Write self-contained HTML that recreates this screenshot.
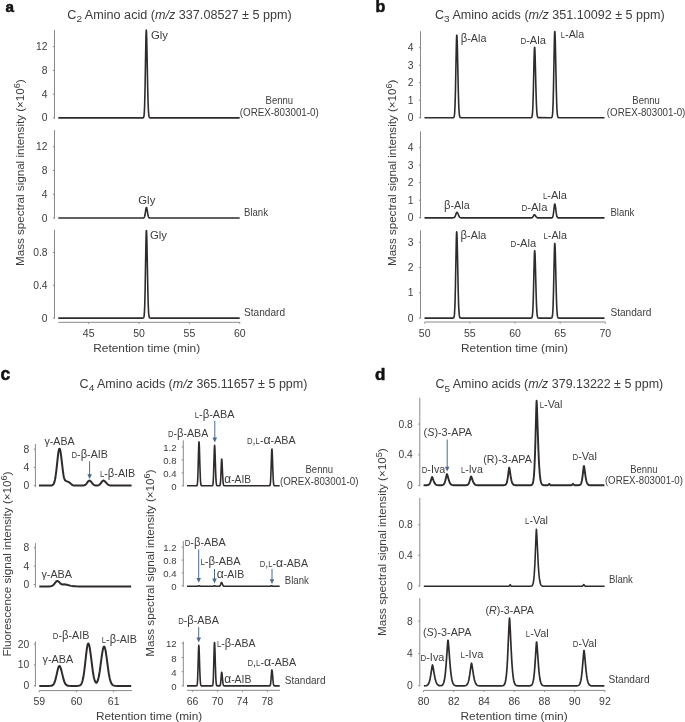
<!DOCTYPE html>
<html><head><meta charset="utf-8"><style>
html,body{margin:0;padding:0;background:#fff;}
body{width:685px;height:722px;overflow:hidden;}
svg{display:block;font-family:"Liberation Sans",sans-serif;fill:#3c3c3c;will-change:transform;}
</style></head><body>
<svg width="685" height="722" viewBox="0 0 685 722">
<text x="5.50" y="11.80" font-size="15.20" font-weight="bold" fill="#111" stroke="#111" stroke-width="0.55">a</text>
<text x="67.30" y="18.60" font-size="12.30" textLength="224.40" lengthAdjust="spacingAndGlyphs">C<tspan font-size="0.8em" dy="3.6">2</tspan><tspan dy="-3.60"> Amino acid (</tspan><tspan font-style="italic">m/z</tspan> 337.08527 ± 5 ppm)</text>
<line x1="54.50" y1="30.10" x2="54.50" y2="118.60" stroke="#8a8a8a" stroke-width="1.00"/>
<line x1="52.90" y1="117.90" x2="54.50" y2="117.90" stroke="#8a8a8a" stroke-width="1.00"/>
<text x="47.50" y="121.40" font-size="10.30" text-anchor="end">0</text>
<line x1="52.90" y1="94.14" x2="54.50" y2="94.14" stroke="#8a8a8a" stroke-width="1.00"/>
<text x="47.50" y="97.64" font-size="10.30" text-anchor="end">4</text>
<line x1="52.90" y1="70.38" x2="54.50" y2="70.38" stroke="#8a8a8a" stroke-width="1.00"/>
<text x="47.50" y="73.88" font-size="10.30" text-anchor="end">8</text>
<line x1="52.90" y1="46.62" x2="54.50" y2="46.62" stroke="#8a8a8a" stroke-width="1.00"/>
<text x="47.50" y="50.12" font-size="10.30" text-anchor="end">12</text>
<line x1="54.50" y1="130.10" x2="54.50" y2="218.60" stroke="#8a8a8a" stroke-width="1.00"/>
<line x1="52.90" y1="218.00" x2="54.50" y2="218.00" stroke="#8a8a8a" stroke-width="1.00"/>
<text x="47.50" y="221.50" font-size="10.30" text-anchor="end">0</text>
<line x1="52.90" y1="194.24" x2="54.50" y2="194.24" stroke="#8a8a8a" stroke-width="1.00"/>
<text x="47.50" y="197.74" font-size="10.30" text-anchor="end">4</text>
<line x1="52.90" y1="170.48" x2="54.50" y2="170.48" stroke="#8a8a8a" stroke-width="1.00"/>
<text x="47.50" y="173.98" font-size="10.30" text-anchor="end">8</text>
<line x1="52.90" y1="146.72" x2="54.50" y2="146.72" stroke="#8a8a8a" stroke-width="1.00"/>
<text x="47.50" y="150.22" font-size="10.30" text-anchor="end">12</text>
<line x1="54.50" y1="229.80" x2="54.50" y2="318.60" stroke="#8a8a8a" stroke-width="1.00"/>
<line x1="52.90" y1="318.10" x2="54.50" y2="318.10" stroke="#8a8a8a" stroke-width="1.00"/>
<text x="47.50" y="321.60" font-size="10.30" text-anchor="end">0</text>
<line x1="52.90" y1="285.30" x2="54.50" y2="285.30" stroke="#8a8a8a" stroke-width="1.00"/>
<text x="47.50" y="288.80" font-size="10.30" text-anchor="end">0.4</text>
<line x1="52.90" y1="252.50" x2="54.50" y2="252.50" stroke="#8a8a8a" stroke-width="1.00"/>
<text x="47.50" y="256.00" font-size="10.30" text-anchor="end">0.8</text>
<line x1="58.30" y1="322.30" x2="239.90" y2="322.30" stroke="#8a8a8a" stroke-width="1.00"/>
<line x1="88.70" y1="322.30" x2="88.70" y2="323.90" stroke="#8a8a8a" stroke-width="1.00"/>
<text x="88.70" y="336.90" font-size="10.50" text-anchor="middle">45</text>
<line x1="139.05" y1="322.30" x2="139.05" y2="323.90" stroke="#8a8a8a" stroke-width="1.00"/>
<text x="139.05" y="336.90" font-size="10.50" text-anchor="middle">50</text>
<line x1="189.40" y1="322.30" x2="189.40" y2="323.90" stroke="#8a8a8a" stroke-width="1.00"/>
<text x="189.40" y="336.90" font-size="10.50" text-anchor="middle">55</text>
<line x1="239.75" y1="322.30" x2="239.75" y2="323.90" stroke="#8a8a8a" stroke-width="1.00"/>
<text x="239.75" y="336.90" font-size="10.50" text-anchor="middle">60</text>
<text x="146.70" y="352.20" font-size="11.20" text-anchor="middle" textLength="107.00" lengthAdjust="spacingAndGlyphs">Retention time (min)</text>
<path d="M58.30 117.90 L142.10 117.90 L142.90 117.87 L143.30 117.73 L143.50 117.51 L143.70 117.08 L143.90 116.27 L144.10 114.81 L144.30 112.38 L144.50 108.56 L144.70 102.95 L145.10 85.45 L145.90 39.21 L146.10 32.40 L146.30 30.00 L146.50 31.93 L146.70 37.46 L147.70 88.22 L148.10 103.30 L148.30 108.32 L148.70 114.29 L148.90 115.82 L149.10 116.76 L149.30 117.30 L149.50 117.60 L149.90 117.83 L150.90 117.90 L239.70 117.90" fill="none" stroke="#2f2b2c" stroke-width="1.60" stroke-linejoin="round"/>
<path d="M58.30 218.00 L143.30 217.97 L143.70 217.88 L144.10 217.60 L144.50 216.86 L144.70 216.22 L145.10 214.27 L145.90 208.92 L146.10 207.97 L146.30 207.47 L146.50 207.45 L146.70 207.87 L146.90 208.65 L147.90 214.56 L148.30 216.26 L148.50 216.83 L148.90 217.53 L149.30 217.84 L149.70 217.95 L151.30 218.00 L239.70 218.00" fill="none" stroke="#2f2b2c" stroke-width="1.60" stroke-linejoin="round"/>
<path d="M58.30 318.10 L142.30 318.10 L143.10 318.05 L143.50 317.84 L143.70 317.53 L143.90 316.94 L144.10 315.84 L144.30 313.94 L144.50 310.86 L144.70 306.19 L145.10 290.78 L145.90 244.08 L146.10 235.41 L146.30 230.71 L146.50 230.59 L146.70 234.38 L146.90 241.48 L147.70 283.60 L148.10 300.35 L148.30 306.19 L148.50 310.45 L148.70 313.40 L148.90 315.34 L149.10 316.55 L149.30 317.27 L149.50 317.67 L149.70 317.89 L150.10 318.06 L151.10 318.10 L239.70 318.10" fill="none" stroke="#2f2b2c" stroke-width="1.60" stroke-linejoin="round"/>
<text x="151.00" y="38.80" font-size="11.80" textLength="17.00" lengthAdjust="spacingAndGlyphs">Gly</text>
<text x="138.30" y="204.20" font-size="11.80" textLength="17.00" lengthAdjust="spacingAndGlyphs">Gly</text>
<text x="150.00" y="238.60" font-size="11.80" textLength="17.00" lengthAdjust="spacingAndGlyphs">Gly</text>
<text x="279.30" y="104.00" font-size="10.80" text-anchor="middle" textLength="27.50" lengthAdjust="spacingAndGlyphs">Bennu</text>
<text x="279.30" y="115.90" font-size="10.80" text-anchor="middle" textLength="79.00" lengthAdjust="spacingAndGlyphs">(OREX-803001-0)</text>
<text x="244.00" y="216.00" font-size="10.80" textLength="24.00" lengthAdjust="spacingAndGlyphs">Blank</text>
<text x="244.00" y="316.20" font-size="10.80" textLength="41.00" lengthAdjust="spacingAndGlyphs">Standard</text>
<text x="24.30" y="172.65" font-size="11.60" text-anchor="middle" textLength="186.70" lengthAdjust="spacingAndGlyphs" transform="rotate(-90 24.30 172.65)">Mass spectral signal intensity (×10<tspan font-size="0.78em" dy="-4.4">6</tspan><tspan dy="4.40">)</tspan></text>
<text x="375.60" y="12.00" font-size="16.00" font-weight="bold" fill="#111" stroke="#111" stroke-width="0.55">b</text>
<text x="435.00" y="18.60" font-size="12.30" textLength="229.70" lengthAdjust="spacingAndGlyphs">C<tspan font-size="0.8em" dy="3.6">3</tspan><tspan dy="-3.60"> Amino acids (</tspan><tspan font-style="italic">m/z</tspan> 351.10092 ± 5 ppm)</text>
<line x1="420.50" y1="31.20" x2="420.50" y2="118.40" stroke="#8a8a8a" stroke-width="1.00"/>
<line x1="418.90" y1="117.70" x2="420.50" y2="117.70" stroke="#8a8a8a" stroke-width="1.00"/>
<text x="413.50" y="121.20" font-size="10.30" text-anchor="end">0</text>
<line x1="418.90" y1="100.20" x2="420.50" y2="100.20" stroke="#8a8a8a" stroke-width="1.00"/>
<text x="413.50" y="103.70" font-size="10.30" text-anchor="end">1</text>
<line x1="418.90" y1="82.70" x2="420.50" y2="82.70" stroke="#8a8a8a" stroke-width="1.00"/>
<text x="413.50" y="86.20" font-size="10.30" text-anchor="end">2</text>
<line x1="418.90" y1="65.20" x2="420.50" y2="65.20" stroke="#8a8a8a" stroke-width="1.00"/>
<text x="413.50" y="68.70" font-size="10.30" text-anchor="end">3</text>
<line x1="418.90" y1="47.70" x2="420.50" y2="47.70" stroke="#8a8a8a" stroke-width="1.00"/>
<text x="413.50" y="51.20" font-size="10.30" text-anchor="end">4</text>
<line x1="420.50" y1="131.40" x2="420.50" y2="218.40" stroke="#8a8a8a" stroke-width="1.00"/>
<line x1="418.90" y1="217.70" x2="420.50" y2="217.70" stroke="#8a8a8a" stroke-width="1.00"/>
<text x="413.50" y="221.20" font-size="10.30" text-anchor="end">0</text>
<line x1="418.90" y1="200.20" x2="420.50" y2="200.20" stroke="#8a8a8a" stroke-width="1.00"/>
<text x="413.50" y="203.70" font-size="10.30" text-anchor="end">1</text>
<line x1="418.90" y1="182.70" x2="420.50" y2="182.70" stroke="#8a8a8a" stroke-width="1.00"/>
<text x="413.50" y="186.20" font-size="10.30" text-anchor="end">2</text>
<line x1="418.90" y1="165.20" x2="420.50" y2="165.20" stroke="#8a8a8a" stroke-width="1.00"/>
<text x="413.50" y="168.70" font-size="10.30" text-anchor="end">3</text>
<line x1="418.90" y1="147.70" x2="420.50" y2="147.70" stroke="#8a8a8a" stroke-width="1.00"/>
<text x="413.50" y="151.20" font-size="10.30" text-anchor="end">4</text>
<line x1="420.50" y1="230.20" x2="420.50" y2="318.60" stroke="#8a8a8a" stroke-width="1.00"/>
<line x1="418.90" y1="318.10" x2="420.50" y2="318.10" stroke="#8a8a8a" stroke-width="1.00"/>
<text x="413.50" y="321.60" font-size="10.30" text-anchor="end">0</text>
<line x1="418.90" y1="292.83" x2="420.50" y2="292.83" stroke="#8a8a8a" stroke-width="1.00"/>
<text x="413.50" y="296.33" font-size="10.30" text-anchor="end">1</text>
<line x1="418.90" y1="267.56" x2="420.50" y2="267.56" stroke="#8a8a8a" stroke-width="1.00"/>
<text x="413.50" y="271.06" font-size="10.30" text-anchor="end">2</text>
<line x1="418.90" y1="242.29" x2="420.50" y2="242.29" stroke="#8a8a8a" stroke-width="1.00"/>
<text x="413.50" y="245.79" font-size="10.30" text-anchor="end">3</text>
<line x1="424.70" y1="322.00" x2="605.30" y2="322.00" stroke="#8a8a8a" stroke-width="1.00"/>
<line x1="424.70" y1="322.00" x2="424.70" y2="323.60" stroke="#8a8a8a" stroke-width="1.00"/>
<text x="424.70" y="336.60" font-size="10.50" text-anchor="middle">50</text>
<line x1="469.85" y1="322.00" x2="469.85" y2="323.60" stroke="#8a8a8a" stroke-width="1.00"/>
<text x="469.85" y="336.60" font-size="10.50" text-anchor="middle">55</text>
<line x1="515.00" y1="322.00" x2="515.00" y2="323.60" stroke="#8a8a8a" stroke-width="1.00"/>
<text x="515.00" y="336.60" font-size="10.50" text-anchor="middle">60</text>
<line x1="560.15" y1="322.00" x2="560.15" y2="323.60" stroke="#8a8a8a" stroke-width="1.00"/>
<text x="560.15" y="336.60" font-size="10.50" text-anchor="middle">65</text>
<line x1="605.30" y1="322.00" x2="605.30" y2="323.60" stroke="#8a8a8a" stroke-width="1.00"/>
<text x="605.30" y="336.60" font-size="10.50" text-anchor="middle">70</text>
<text x="514.50" y="352.20" font-size="11.20" text-anchor="middle" textLength="107.00" lengthAdjust="spacingAndGlyphs">Retention time (min)</text>
<path d="M424.50 117.70 L452.90 117.69 L453.30 117.66 L453.70 117.48 L453.90 117.24 L454.10 116.78 L454.30 115.95 L454.50 114.53 L454.70 112.25 L455.10 103.78 L455.50 88.49 L456.30 46.65 L456.50 39.28 L456.70 35.31 L456.90 35.21 L457.10 38.45 L457.30 44.54 L458.30 90.79 L458.70 104.07 L458.90 108.56 L459.30 114.06 L459.50 115.53 L459.70 116.46 L459.90 117.02 L460.10 117.34 L460.30 117.52 L460.70 117.66 L461.70 117.70 L529.50 117.70 L530.90 117.68 L531.30 117.61 L531.50 117.51 L531.70 117.31 L531.90 116.91 L532.10 116.21 L532.30 115.00 L532.50 113.05 L532.70 110.09 L532.90 105.82 L533.30 92.79 L534.10 57.11 L534.30 50.82 L534.50 47.44 L534.70 47.35 L534.90 50.11 L535.10 55.31 L535.90 87.33 L536.30 101.03 L536.70 109.91 L536.90 112.68 L537.10 114.59 L537.30 115.85 L537.50 116.65 L537.70 117.12 L537.90 117.39 L538.10 117.55 L538.50 117.66 L550.70 117.70 L551.30 117.65 L551.70 117.47 L551.90 117.22 L552.10 116.74 L552.30 115.87 L552.50 114.39 L552.70 112.01 L552.90 108.37 L553.10 103.15 L553.50 87.19 L554.30 43.48 L554.50 35.78 L554.70 31.63 L554.90 31.53 L555.10 34.91 L555.30 41.28 L556.30 89.59 L556.70 103.46 L556.90 108.15 L557.30 113.90 L557.50 115.44 L557.70 116.41 L557.90 116.99 L558.10 117.33 L558.30 117.51 L558.70 117.66 L559.30 117.70 L604.50 117.70" fill="none" stroke="#2f2b2c" stroke-width="1.60" stroke-linejoin="round"/>
<path d="M424.50 217.90 L451.90 217.90 L453.50 217.82 L454.10 217.60 L454.50 217.26 L454.70 217.01 L455.30 215.85 L456.10 213.67 L456.50 212.77 L456.70 212.47 L456.90 212.32 L457.10 212.32 L457.30 212.45 L457.70 213.06 L458.90 215.98 L459.50 217.02 L459.90 217.43 L460.30 217.68 L460.70 217.80 L461.30 217.88 L531.10 217.89 L531.90 217.76 L532.50 217.37 L532.90 216.86 L533.90 215.08 L534.10 214.84 L534.30 214.72 L534.50 214.71 L534.70 214.80 L535.10 215.20 L536.10 216.73 L536.50 217.21 L537.10 217.65 L537.70 217.83 L539.30 217.90 L551.70 217.86 L552.10 217.75 L552.50 217.37 L552.90 216.40 L553.10 215.57 L553.50 213.00 L554.30 205.99 L554.50 204.75 L554.70 204.09 L554.90 204.07 L555.10 204.61 L555.30 205.63 L556.30 213.39 L556.70 215.61 L556.90 216.37 L557.30 217.29 L557.50 217.54 L557.90 217.79 L558.30 217.87 L559.30 217.90 L604.50 217.90" fill="none" stroke="#2f2b2c" stroke-width="1.60" stroke-linejoin="round"/>
<path d="M424.50 318.10 L452.70 318.10 L453.10 318.07 L453.50 317.94 L453.70 317.77 L453.90 317.42 L454.10 316.77 L454.30 315.63 L454.50 313.74 L454.90 306.41 L455.10 300.31 L455.50 282.58 L456.30 239.83 L456.50 233.81 L456.70 231.70 L456.90 233.41 L457.10 238.34 L457.50 255.36 L458.10 285.67 L458.50 301.00 L458.70 306.41 L458.90 310.42 L459.30 315.16 L459.50 316.39 L459.70 317.14 L459.90 317.58 L460.10 317.83 L460.30 317.97 L460.70 318.07 L461.70 318.10 L530.30 318.10 L531.30 318.05 L531.70 317.84 L531.90 317.57 L532.10 317.06 L532.30 316.17 L532.50 314.70 L532.90 308.98 L533.30 298.00 L534.30 257.04 L534.50 252.34 L534.70 250.70 L534.90 252.03 L535.10 255.88 L535.30 261.80 L536.10 292.80 L536.50 304.76 L536.90 312.11 L537.10 314.32 L537.30 315.81 L537.50 316.76 L537.70 317.35 L537.90 317.70 L538.30 318.00 L538.70 318.08 L550.70 318.10 L551.30 318.06 L551.70 317.90 L551.90 317.68 L552.10 317.27 L552.30 316.52 L552.50 315.24 L552.70 313.17 L552.90 310.02 L553.10 305.50 L553.50 291.68 L554.30 253.83 L554.50 247.15 L554.70 243.56 L554.90 243.47 L555.10 246.40 L555.30 251.91 L556.30 293.75 L556.70 305.76 L556.90 309.83 L557.30 314.80 L557.50 316.14 L557.70 316.98 L557.90 317.49 L558.10 317.78 L558.30 317.94 L558.70 318.06 L559.30 318.10 L604.50 318.10" fill="none" stroke="#2f2b2c" stroke-width="1.60" stroke-linejoin="round"/>
<text x="460.70" y="42.00" font-size="11.80" textLength="25.70" lengthAdjust="spacingAndGlyphs"><tspan font-size="1.05em">β</tspan>-Ala</text>
<text x="520.40" y="44.20" font-size="11.80" textLength="25.40" lengthAdjust="spacingAndGlyphs"><tspan font-size="0.72em">D</tspan>-Ala</text>
<text x="560.80" y="38.20" font-size="11.80" textLength="23.40" lengthAdjust="spacingAndGlyphs"><tspan font-size="0.72em">L</tspan>-Ala</text>
<text x="444.00" y="209.30" font-size="11.80" textLength="25.70" lengthAdjust="spacingAndGlyphs"><tspan font-size="1.05em">β</tspan>-Ala</text>
<text x="521.50" y="211.10" font-size="11.80" textLength="25.90" lengthAdjust="spacingAndGlyphs"><tspan font-size="0.72em">D</tspan>-Ala</text>
<text x="542.90" y="198.80" font-size="11.80" textLength="24.10" lengthAdjust="spacingAndGlyphs"><tspan font-size="0.72em">L</tspan>-Ala</text>
<text x="460.60" y="238.70" font-size="11.80" textLength="25.70" lengthAdjust="spacingAndGlyphs"><tspan font-size="1.05em">β</tspan>-Ala</text>
<text x="510.60" y="247.30" font-size="11.80" textLength="25.60" lengthAdjust="spacingAndGlyphs"><tspan font-size="0.72em">D</tspan>-Ala</text>
<text x="543.50" y="239.10" font-size="11.80" textLength="23.50" lengthAdjust="spacingAndGlyphs"><tspan font-size="0.72em">L</tspan>-Ala</text>
<text x="646.10" y="104.20" font-size="10.80" text-anchor="middle" textLength="27.50" lengthAdjust="spacingAndGlyphs">Bennu</text>
<text x="646.10" y="115.60" font-size="10.80" text-anchor="middle" textLength="78.50" lengthAdjust="spacingAndGlyphs">(OREX-803001-0)</text>
<text x="610.40" y="216.10" font-size="10.80" textLength="24.00" lengthAdjust="spacingAndGlyphs">Blank</text>
<text x="610.40" y="316.40" font-size="10.80" textLength="41.00" lengthAdjust="spacingAndGlyphs">Standard</text>
<text x="396.00" y="172.80" font-size="11.60" text-anchor="middle" textLength="186.40" lengthAdjust="spacingAndGlyphs" transform="rotate(-90 396.00 172.80)">Mass spectral signal intensity (×10<tspan font-size="0.78em" dy="-4.4">6</tspan><tspan dy="4.40">)</tspan></text>
<text x="0.40" y="380.40" font-size="17.50" font-weight="bold" fill="#111" stroke="#111" stroke-width="0.55">c</text>
<text x="79.60" y="387.60" font-size="12.30" textLength="227.80" lengthAdjust="spacingAndGlyphs">C<tspan font-size="0.8em" dy="3.6">4</tspan><tspan dy="-3.60"> Amino acids (</tspan><tspan font-style="italic">m/z</tspan> 365.11657 ± 5 ppm)</text>
<line x1="35.40" y1="444.00" x2="35.40" y2="487.20" stroke="#8a8a8a" stroke-width="1.00"/>
<line x1="33.80" y1="485.60" x2="35.40" y2="485.60" stroke="#8a8a8a" stroke-width="1.00"/>
<text x="29.20" y="489.10" font-size="10.30" text-anchor="end">0</text>
<line x1="33.80" y1="467.40" x2="35.40" y2="467.40" stroke="#8a8a8a" stroke-width="1.00"/>
<text x="29.20" y="470.90" font-size="10.30" text-anchor="end">4</text>
<line x1="33.80" y1="449.20" x2="35.40" y2="449.20" stroke="#8a8a8a" stroke-width="1.00"/>
<text x="29.20" y="452.70" font-size="10.30" text-anchor="end">8</text>
<line x1="35.40" y1="543.10" x2="35.40" y2="587.60" stroke="#8a8a8a" stroke-width="1.00"/>
<line x1="33.80" y1="584.50" x2="35.40" y2="584.50" stroke="#8a8a8a" stroke-width="1.00"/>
<text x="29.20" y="588.00" font-size="10.30" text-anchor="end">0</text>
<line x1="33.80" y1="566.10" x2="35.40" y2="566.10" stroke="#8a8a8a" stroke-width="1.00"/>
<text x="29.20" y="569.60" font-size="10.30" text-anchor="end">4</text>
<line x1="33.80" y1="547.70" x2="35.40" y2="547.70" stroke="#8a8a8a" stroke-width="1.00"/>
<text x="29.20" y="551.20" font-size="10.30" text-anchor="end">8</text>
<line x1="35.40" y1="641.40" x2="35.40" y2="686.60" stroke="#8a8a8a" stroke-width="1.00"/>
<line x1="33.80" y1="685.60" x2="35.40" y2="685.60" stroke="#8a8a8a" stroke-width="1.00"/>
<text x="29.20" y="689.10" font-size="10.30" text-anchor="end">0</text>
<line x1="33.80" y1="664.90" x2="35.40" y2="664.90" stroke="#8a8a8a" stroke-width="1.00"/>
<text x="29.20" y="668.40" font-size="10.30" text-anchor="end">10</text>
<line x1="33.80" y1="644.20" x2="35.40" y2="644.20" stroke="#8a8a8a" stroke-width="1.00"/>
<text x="29.20" y="647.70" font-size="10.30" text-anchor="end">20</text>
<line x1="39.30" y1="690.60" x2="132.00" y2="690.60" stroke="#8a8a8a" stroke-width="1.00"/>
<line x1="39.30" y1="690.60" x2="39.30" y2="692.20" stroke="#8a8a8a" stroke-width="1.00"/>
<text x="39.30" y="705.20" font-size="10.50" text-anchor="middle">59</text>
<line x1="76.50" y1="690.60" x2="76.50" y2="692.20" stroke="#8a8a8a" stroke-width="1.00"/>
<text x="76.50" y="705.20" font-size="10.50" text-anchor="middle">60</text>
<line x1="113.70" y1="690.60" x2="113.70" y2="692.20" stroke="#8a8a8a" stroke-width="1.00"/>
<text x="113.70" y="705.20" font-size="10.50" text-anchor="middle">61</text>
<path d="M39.00 485.60 L49.40 485.60 L51.20 485.53 L52.00 485.37 L52.60 485.10 L53.20 484.58 L53.60 484.02 L54.20 482.69 L54.60 481.39 L55.00 479.68 L55.40 477.52 L56.20 471.80 L57.80 457.12 L58.40 452.44 L58.80 450.21 L59.00 449.43 L59.20 448.90 L59.40 448.63 L59.60 448.63 L59.80 448.88 L60.00 449.36 L60.20 450.08 L60.60 452.14 L61.20 456.50 L63.00 471.87 L63.60 475.69 L64.00 477.57 L64.40 478.95 L64.80 479.87 L65.00 480.19 L65.40 480.62 L66.40 481.17 L68.20 481.84 L69.20 482.38 L70.00 482.97 L71.80 484.64 L72.60 485.15 L73.60 485.47 L75.20 485.59 L82.20 485.59 L83.40 485.52 L84.20 485.37 L85.00 485.04 L85.80 484.45 L86.60 483.54 L87.80 481.86 L88.40 481.14 L89.00 480.69 L89.40 480.60 L90.00 480.77 L90.60 481.24 L92.80 483.92 L93.40 484.50 L94.00 484.92 L94.80 485.28 L95.60 485.46 L96.60 485.54 L97.60 485.48 L98.60 485.23 L99.20 484.92 L99.60 484.63 L100.40 483.80 L101.80 481.86 L102.40 481.14 L103.00 480.69 L103.40 480.60 L104.00 480.73 L104.80 481.27 L107.00 483.68 L108.00 484.55 L109.00 485.11 L110.20 485.44 L111.40 485.56 L113.00 485.59 L131.60 485.60" fill="none" stroke="#2f2b2c" stroke-width="2.00" stroke-linejoin="round"/>
<path d="M39.30 586.40 L49.10 586.38 L50.50 586.30 L51.50 586.11 L52.30 585.78 L53.10 585.23 L53.90 584.42 L55.50 582.32 L56.10 581.63 L56.70 581.16 L57.30 580.99 L57.70 581.05 L58.30 581.35 L58.90 581.86 L60.70 583.68 L61.30 584.09 L61.70 584.26 L62.50 584.41 L64.10 584.35 L65.50 584.52 L66.90 584.81 L70.90 585.87 L72.30 586.12 L73.90 586.28 L75.90 586.37 L79.10 586.40 L131.20 586.40" fill="none" stroke="#2f2b2c" stroke-width="2.00" stroke-linejoin="round"/>
<path d="M39.30 685.90 L48.50 685.90 L50.50 685.84 L51.30 685.74 L52.10 685.51 L52.70 685.18 L53.10 684.84 L53.70 684.10 L54.10 683.41 L54.90 681.45 L55.90 677.86 L57.50 670.66 L58.10 668.34 L58.70 666.71 L59.10 666.13 L59.30 666.01 L59.50 666.01 L59.90 666.31 L60.30 667.00 L60.70 668.03 L61.50 670.88 L63.30 678.36 L64.30 681.60 L64.70 682.58 L65.30 683.74 L65.70 684.32 L66.30 684.94 L67.10 685.45 L67.90 685.70 L69.10 685.85 L70.90 685.90 L76.50 685.89 L78.30 685.83 L79.50 685.60 L80.10 685.32 L80.50 685.02 L80.90 684.61 L81.30 684.04 L81.70 683.26 L82.10 682.25 L82.70 680.16 L83.30 677.29 L83.90 673.56 L84.50 669.02 L86.30 653.05 L86.90 648.48 L87.30 646.12 L87.70 644.46 L87.90 643.93 L88.10 643.61 L88.30 643.50 L88.50 643.59 L88.70 643.85 L89.10 644.89 L89.50 646.56 L89.90 648.79 L90.70 654.48 L92.50 668.93 L93.10 673.04 L93.70 676.46 L94.10 678.32 L94.70 680.47 L95.10 681.49 L95.30 681.89 L95.70 682.44 L96.10 682.70 L96.50 682.67 L96.90 682.34 L97.10 682.07 L97.50 681.30 L97.90 680.22 L98.50 678.00 L99.10 675.07 L99.70 671.46 L101.70 656.70 L102.50 651.41 L102.90 649.34 L103.30 647.79 L103.70 646.83 L103.90 646.58 L104.10 646.50 L104.30 646.58 L104.50 646.83 L104.90 647.79 L105.30 649.34 L105.70 651.41 L106.50 656.70 L108.30 670.16 L108.90 674.02 L109.50 677.26 L109.90 679.06 L110.50 681.22 L111.10 682.82 L111.70 683.95 L112.30 684.71 L113.10 685.32 L113.90 685.63 L114.90 685.81 L117.30 685.90 L131.20 685.90" fill="none" stroke="#2f2b2c" stroke-width="2.00" stroke-linejoin="round"/>
<text x="44.50" y="445.00" font-size="11.80" textLength="30.00" lengthAdjust="spacingAndGlyphs">γ-ABA</text>
<text x="71.50" y="458.00" font-size="11.80" textLength="36.40" lengthAdjust="spacingAndGlyphs"><tspan font-size="0.72em">D</tspan>-<tspan font-size="1.05em">β</tspan>-AIB</text>
<line x1="89.60" y1="461.20" x2="89.60" y2="475.30" stroke="#4d6a8c" stroke-width="1.00"/>
<path d="M87.30 474.30 L91.90 474.30 L89.60 479.10 Z" fill="#4d6a8c"/>
<text x="100.00" y="476.90" font-size="11.80" textLength="35.20" lengthAdjust="spacingAndGlyphs"><tspan font-size="0.72em">L</tspan>-<tspan font-size="1.05em">β</tspan>-AIB</text>
<text x="41.40" y="577.60" font-size="11.80" textLength="30.60" lengthAdjust="spacingAndGlyphs">γ-ABA</text>
<text x="42.60" y="663.10" font-size="11.80" textLength="30.60" lengthAdjust="spacingAndGlyphs">γ-ABA</text>
<text x="52.80" y="639.20" font-size="11.80" textLength="36.50" lengthAdjust="spacingAndGlyphs"><tspan font-size="0.72em">D</tspan>-<tspan font-size="1.05em">β</tspan>-AIB</text>
<text x="101.80" y="642.50" font-size="11.80" textLength="35.20" lengthAdjust="spacingAndGlyphs"><tspan font-size="0.72em">L</tspan>-<tspan font-size="1.05em">β</tspan>-AIB</text>
<text x="11.30" y="564.10" font-size="11.60" text-anchor="middle" textLength="185.00" lengthAdjust="spacingAndGlyphs" transform="rotate(-90 11.30 564.10)">Fluorescence signal intensity (×10<tspan font-size="0.78em" dy="-4.4">6</tspan><tspan dy="4.40">)</tspan></text>
<line x1="183.30" y1="440.30" x2="183.30" y2="486.40" stroke="#8a8a8a" stroke-width="1.00"/>
<line x1="181.70" y1="485.80" x2="183.30" y2="485.80" stroke="#8a8a8a" stroke-width="1.00"/>
<text x="176.60" y="489.80" font-size="9.60" text-anchor="end">0</text>
<line x1="181.70" y1="472.84" x2="183.30" y2="472.84" stroke="#8a8a8a" stroke-width="1.00"/>
<text x="176.60" y="476.84" font-size="9.60" text-anchor="end">0.4</text>
<line x1="181.70" y1="459.88" x2="183.30" y2="459.88" stroke="#8a8a8a" stroke-width="1.00"/>
<text x="176.60" y="463.88" font-size="9.60" text-anchor="end">0.8</text>
<line x1="181.70" y1="446.92" x2="183.30" y2="446.92" stroke="#8a8a8a" stroke-width="1.00"/>
<text x="176.60" y="450.92" font-size="9.60" text-anchor="end">1.2</text>
<line x1="183.30" y1="541.00" x2="183.30" y2="586.80" stroke="#8a8a8a" stroke-width="1.00"/>
<line x1="181.70" y1="585.90" x2="183.30" y2="585.90" stroke="#8a8a8a" stroke-width="1.00"/>
<text x="176.60" y="589.90" font-size="9.60" text-anchor="end">0</text>
<line x1="181.70" y1="572.98" x2="183.30" y2="572.98" stroke="#8a8a8a" stroke-width="1.00"/>
<text x="176.60" y="576.98" font-size="9.60" text-anchor="end">0.4</text>
<line x1="181.70" y1="560.06" x2="183.30" y2="560.06" stroke="#8a8a8a" stroke-width="1.00"/>
<text x="176.60" y="564.06" font-size="9.60" text-anchor="end">0.8</text>
<line x1="181.70" y1="547.14" x2="183.30" y2="547.14" stroke="#8a8a8a" stroke-width="1.00"/>
<text x="176.60" y="551.14" font-size="9.60" text-anchor="end">1.2</text>
<line x1="183.30" y1="641.50" x2="183.30" y2="686.50" stroke="#8a8a8a" stroke-width="1.00"/>
<line x1="181.70" y1="685.90" x2="183.30" y2="685.90" stroke="#8a8a8a" stroke-width="1.00"/>
<text x="176.60" y="689.90" font-size="9.60" text-anchor="end">0</text>
<line x1="181.70" y1="671.70" x2="183.30" y2="671.70" stroke="#8a8a8a" stroke-width="1.00"/>
<text x="176.60" y="675.70" font-size="9.60" text-anchor="end">4</text>
<line x1="181.70" y1="657.50" x2="183.30" y2="657.50" stroke="#8a8a8a" stroke-width="1.00"/>
<text x="176.60" y="661.50" font-size="9.60" text-anchor="end">8</text>
<line x1="181.70" y1="643.30" x2="183.30" y2="643.30" stroke="#8a8a8a" stroke-width="1.00"/>
<text x="176.60" y="647.30" font-size="9.60" text-anchor="end">12</text>
<line x1="187.00" y1="690.30" x2="279.90" y2="690.30" stroke="#8a8a8a" stroke-width="1.00"/>
<line x1="192.60" y1="690.30" x2="192.60" y2="691.90" stroke="#8a8a8a" stroke-width="1.00"/>
<text x="192.60" y="704.90" font-size="10.50" text-anchor="middle">66</text>
<line x1="217.52" y1="690.30" x2="217.52" y2="691.90" stroke="#8a8a8a" stroke-width="1.00"/>
<text x="217.52" y="704.90" font-size="10.50" text-anchor="middle">70</text>
<line x1="242.44" y1="690.30" x2="242.44" y2="691.90" stroke="#8a8a8a" stroke-width="1.00"/>
<text x="242.44" y="704.90" font-size="10.50" text-anchor="middle">74</text>
<line x1="267.36" y1="690.30" x2="267.36" y2="691.90" stroke="#8a8a8a" stroke-width="1.00"/>
<text x="267.36" y="704.90" font-size="10.50" text-anchor="middle">78</text>
<path d="M187.00 485.80 L196.40 485.79 L196.80 485.66 L197.00 485.41 L197.20 484.85 L197.40 483.67 L197.60 481.47 L197.80 477.80 L198.00 472.33 L198.60 449.39 L198.80 443.83 L199.00 441.80 L199.20 443.47 L199.40 448.09 L200.00 469.03 L200.40 479.16 L200.60 482.08 L200.80 483.87 L201.00 484.87 L201.20 485.39 L201.40 485.63 L201.60 485.74 L202.20 485.80 L212.00 485.79 L212.40 485.67 L212.60 485.44 L212.80 484.92 L213.00 483.84 L213.20 481.82 L213.40 478.43 L213.60 473.40 L214.20 452.29 L214.40 447.17 L214.60 445.30 L214.80 446.83 L215.00 451.09 L215.60 470.36 L216.00 479.68 L216.20 482.37 L216.40 484.02 L216.60 484.95 L216.80 485.42 L217.00 485.64 L217.20 485.74 L217.60 485.79 L219.20 485.80 L219.60 485.74 L219.80 485.62 L220.00 485.31 L220.20 484.62 L220.40 483.23 L220.60 480.79 L220.80 477.07 L221.40 462.06 L221.60 459.27 L221.80 459.17 L222.00 461.26 L222.60 474.03 L223.00 481.00 L223.20 483.09 L223.40 484.39 L223.60 485.12 L223.80 485.50 L224.00 485.68 L224.40 485.78 L225.00 485.80 L268.80 485.80 L269.40 485.78 L269.80 485.60 L270.00 485.28 L270.20 484.59 L270.40 483.22 L270.60 480.79 L271.00 471.61 L271.60 452.54 L271.80 449.24 L272.00 449.16 L272.20 451.88 L272.40 456.73 L272.80 468.86 L273.20 478.55 L273.40 481.58 L273.60 483.52 L273.80 484.66 L274.00 485.27 L274.20 485.57 L274.60 485.77 L279.70 485.80" fill="none" stroke="#2f2b2c" stroke-width="1.60" stroke-linejoin="round"/>
<path d="M187.00 586.20 L197.60 586.19 L198.00 586.13 L198.80 585.74 L199.00 585.70 L199.20 585.74 L200.00 586.13 L200.60 586.20 L213.00 586.19 L213.60 586.10 L214.40 585.71 L214.60 585.71 L215.40 586.10 L215.80 586.18 L219.20 586.18 L219.60 586.10 L219.80 586.00 L220.20 585.52 L220.60 584.54 L221.20 582.73 L221.40 582.44 L221.60 582.43 L221.80 582.66 L222.00 583.07 L222.60 584.72 L223.00 585.54 L223.40 585.97 L223.80 586.14 L224.20 586.19 L270.00 586.20 L270.60 586.16 L271.40 585.87 L271.80 585.81 L272.60 586.12 L273.00 586.19 L279.70 586.20" fill="none" stroke="#2f2b2c" stroke-width="1.60" stroke-linejoin="round"/>
<path d="M187.00 685.90 L196.20 685.89 L196.60 685.83 L196.80 685.68 L197.00 685.30 L197.20 684.45 L197.40 682.73 L197.60 679.66 L198.00 668.24 L198.40 652.93 L198.60 647.36 L198.80 645.30 L199.00 646.84 L199.20 651.11 L199.80 670.42 L200.20 679.77 L200.40 682.46 L200.60 684.12 L200.80 685.04 L201.00 685.52 L201.20 685.74 L201.40 685.84 L201.80 685.89 L211.80 685.90 L212.20 685.86 L212.40 685.76 L212.60 685.50 L212.80 684.88 L213.00 683.55 L213.20 681.04 L213.40 676.82 L214.20 646.94 L214.40 642.67 L214.60 642.52 L214.80 645.74 L215.00 651.48 L215.40 665.85 L215.80 677.32 L216.00 680.90 L216.20 683.20 L216.40 684.55 L216.60 685.28 L216.80 685.63 L217.00 685.79 L217.60 685.90 L219.60 685.87 L219.80 685.81 L220.00 685.65 L220.20 685.30 L220.40 684.59 L220.60 683.35 L220.80 681.45 L221.40 673.81 L221.60 672.39 L221.80 672.34 L222.00 673.40 L222.60 679.91 L223.00 683.46 L223.20 684.52 L223.40 685.18 L223.60 685.56 L223.80 685.75 L224.00 685.84 L225.00 685.90 L268.60 685.90 L269.40 685.89 L269.80 685.81 L270.00 685.68 L270.20 685.38 L270.40 684.78 L270.60 683.73 L271.00 679.77 L271.60 671.52 L271.80 670.09 L272.00 670.04 L272.20 671.13 L272.40 673.09 L273.20 682.34 L273.40 683.73 L273.60 684.67 L273.80 685.25 L274.00 685.58 L274.20 685.75 L274.60 685.88 L279.70 685.90" fill="none" stroke="#2f2b2c" stroke-width="1.60" stroke-linejoin="round"/>
<text x="168.00" y="436.70" font-size="11.80" textLength="40.30" lengthAdjust="spacingAndGlyphs"><tspan font-size="0.72em">D</tspan>-<tspan font-size="1.05em">β</tspan>-ABA</text>
<text x="194.70" y="417.80" font-size="11.80" textLength="39.90" lengthAdjust="spacingAndGlyphs"><tspan font-size="0.72em">L</tspan>-<tspan font-size="1.05em">β</tspan>-ABA</text>
<line x1="214.80" y1="420.70" x2="214.80" y2="438.60" stroke="#4d6a8c" stroke-width="1.00"/>
<path d="M212.50 437.60 L217.10 437.60 L214.80 442.40 Z" fill="#4d6a8c"/>
<text x="224.30" y="482.80" font-size="11.80" textLength="26.80" lengthAdjust="spacingAndGlyphs"><tspan font-size="1.15em">α</tspan>-AIB</text>
<text x="247.00" y="444.10" font-size="11.80" textLength="48.70" lengthAdjust="spacingAndGlyphs"><tspan font-size="0.72em">D</tspan>,<tspan font-size="0.72em">L</tspan>-<tspan font-size="1.15em">α</tspan>-ABA</text>
<text x="319.30" y="473.40" font-size="10.80" text-anchor="middle" textLength="27.60" lengthAdjust="spacingAndGlyphs">Bennu</text>
<text x="319.20" y="485.20" font-size="10.80" text-anchor="middle" textLength="78.40" lengthAdjust="spacingAndGlyphs">(OREX-803001-0)</text>
<text x="184.70" y="545.80" font-size="11.80" textLength="41.10" lengthAdjust="spacingAndGlyphs"><tspan font-size="0.72em">D</tspan>-<tspan font-size="1.05em">β</tspan>-ABA</text>
<line x1="198.70" y1="549.40" x2="198.70" y2="578.90" stroke="#4d6a8c" stroke-width="1.00"/>
<path d="M196.40 577.90 L201.00 577.90 L198.70 582.70 Z" fill="#4d6a8c"/>
<text x="200.40" y="565.40" font-size="11.80" textLength="40.30" lengthAdjust="spacingAndGlyphs"><tspan font-size="0.72em">L</tspan>-<tspan font-size="1.05em">β</tspan>-ABA</text>
<line x1="214.50" y1="569.00" x2="214.50" y2="579.60" stroke="#4d6a8c" stroke-width="1.00"/>
<path d="M212.20 578.60 L216.80 578.60 L214.50 583.40 Z" fill="#4d6a8c"/>
<text x="216.70" y="578.10" font-size="11.80" textLength="27.50" lengthAdjust="spacingAndGlyphs"><tspan font-size="1.15em">α</tspan>-AIB</text>
<text x="259.80" y="566.70" font-size="11.80" textLength="48.20" lengthAdjust="spacingAndGlyphs"><tspan font-size="0.72em">D</tspan>,<tspan font-size="0.72em">L</tspan>-<tspan font-size="1.15em">α</tspan>-ABA</text>
<line x1="272.00" y1="568.90" x2="272.00" y2="580.20" stroke="#4d6a8c" stroke-width="1.00"/>
<path d="M269.70 579.20 L274.30 579.20 L272.00 584.00 Z" fill="#4d6a8c"/>
<text x="284.80" y="584.40" font-size="10.80" textLength="24.00" lengthAdjust="spacingAndGlyphs">Blank</text>
<text x="178.20" y="624.30" font-size="11.80" textLength="40.60" lengthAdjust="spacingAndGlyphs"><tspan font-size="0.72em">D</tspan>-<tspan font-size="1.05em">β</tspan>-ABA</text>
<line x1="198.70" y1="627.20" x2="198.70" y2="638.60" stroke="#4d6a8c" stroke-width="1.00"/>
<path d="M196.40 637.60 L201.00 637.60 L198.70 642.40 Z" fill="#4d6a8c"/>
<text x="217.10" y="647.00" font-size="11.80" textLength="38.50" lengthAdjust="spacingAndGlyphs"><tspan font-size="0.72em">L</tspan>-<tspan font-size="1.05em">β</tspan>-ABA</text>
<text x="224.20" y="683.10" font-size="11.80" textLength="27.20" lengthAdjust="spacingAndGlyphs"><tspan font-size="1.15em">α</tspan>-AIB</text>
<text x="247.50" y="666.30" font-size="11.80" textLength="48.70" lengthAdjust="spacingAndGlyphs"><tspan font-size="0.72em">D</tspan>,<tspan font-size="0.72em">L</tspan>-<tspan font-size="1.15em">α</tspan>-ABA</text>
<text x="284.80" y="684.00" font-size="10.80" textLength="40.70" lengthAdjust="spacingAndGlyphs">Standard</text>
<text x="149.10" y="719.80" font-size="11.20" text-anchor="middle" textLength="106.20" lengthAdjust="spacingAndGlyphs">Retention time (min)</text>
<text x="154.50" y="563.10" font-size="11.60" text-anchor="middle" textLength="187.20" lengthAdjust="spacingAndGlyphs" transform="rotate(-90 154.50 563.10)">Mass spectral signal intensity (×10<tspan font-size="0.78em" dy="-4.4">6</tspan><tspan dy="4.40">)</tspan></text>
<text x="375.00" y="379.70" font-size="17.00" font-weight="bold" fill="#111" stroke="#111" stroke-width="0.55">d</text>
<text x="435.50" y="388.00" font-size="12.30" textLength="227.70" lengthAdjust="spacingAndGlyphs">C<tspan font-size="0.8em" dy="3.6">5</tspan><tspan dy="-3.60"> Amino acids (</tspan><tspan font-style="italic">m/z</tspan> 379.13222 ± 5 ppm)</text>
<line x1="419.80" y1="397.80" x2="419.80" y2="486.20" stroke="#8a8a8a" stroke-width="1.00"/>
<line x1="418.20" y1="485.60" x2="419.80" y2="485.60" stroke="#8a8a8a" stroke-width="1.00"/>
<text x="412.80" y="489.10" font-size="10.30" text-anchor="end">0</text>
<line x1="418.20" y1="454.84" x2="419.80" y2="454.84" stroke="#8a8a8a" stroke-width="1.00"/>
<text x="412.80" y="458.34" font-size="10.30" text-anchor="end">0.4</text>
<line x1="418.20" y1="424.08" x2="419.80" y2="424.08" stroke="#8a8a8a" stroke-width="1.00"/>
<text x="412.80" y="427.58" font-size="10.30" text-anchor="end">0.8</text>
<line x1="419.80" y1="497.90" x2="419.80" y2="586.60" stroke="#8a8a8a" stroke-width="1.00"/>
<line x1="418.20" y1="586.00" x2="419.80" y2="586.00" stroke="#8a8a8a" stroke-width="1.00"/>
<text x="412.80" y="589.50" font-size="10.30" text-anchor="end">0</text>
<line x1="418.20" y1="555.36" x2="419.80" y2="555.36" stroke="#8a8a8a" stroke-width="1.00"/>
<text x="412.80" y="558.86" font-size="10.30" text-anchor="end">0.4</text>
<line x1="418.20" y1="524.72" x2="419.80" y2="524.72" stroke="#8a8a8a" stroke-width="1.00"/>
<text x="412.80" y="528.22" font-size="10.30" text-anchor="end">0.8</text>
<line x1="419.80" y1="598.20" x2="419.80" y2="686.30" stroke="#8a8a8a" stroke-width="1.00"/>
<line x1="418.20" y1="685.70" x2="419.80" y2="685.70" stroke="#8a8a8a" stroke-width="1.00"/>
<text x="412.80" y="689.20" font-size="10.30" text-anchor="end">0</text>
<line x1="418.20" y1="653.42" x2="419.80" y2="653.42" stroke="#8a8a8a" stroke-width="1.00"/>
<text x="412.80" y="656.92" font-size="10.30" text-anchor="end">4</text>
<line x1="418.20" y1="621.14" x2="419.80" y2="621.14" stroke="#8a8a8a" stroke-width="1.00"/>
<text x="412.80" y="624.64" font-size="10.30" text-anchor="end">8</text>
<line x1="423.90" y1="690.40" x2="604.90" y2="690.40" stroke="#8a8a8a" stroke-width="1.00"/>
<line x1="423.50" y1="690.40" x2="423.50" y2="692.00" stroke="#8a8a8a" stroke-width="1.00"/>
<text x="423.50" y="705.00" font-size="10.50" text-anchor="middle">80</text>
<line x1="453.74" y1="690.40" x2="453.74" y2="692.00" stroke="#8a8a8a" stroke-width="1.00"/>
<text x="453.74" y="705.00" font-size="10.50" text-anchor="middle">82</text>
<line x1="483.98" y1="690.40" x2="483.98" y2="692.00" stroke="#8a8a8a" stroke-width="1.00"/>
<text x="483.98" y="705.00" font-size="10.50" text-anchor="middle">84</text>
<line x1="514.22" y1="690.40" x2="514.22" y2="692.00" stroke="#8a8a8a" stroke-width="1.00"/>
<text x="514.22" y="705.00" font-size="10.50" text-anchor="middle">86</text>
<line x1="544.46" y1="690.40" x2="544.46" y2="692.00" stroke="#8a8a8a" stroke-width="1.00"/>
<text x="544.46" y="705.00" font-size="10.50" text-anchor="middle">88</text>
<line x1="574.70" y1="690.40" x2="574.70" y2="692.00" stroke="#8a8a8a" stroke-width="1.00"/>
<text x="574.70" y="705.00" font-size="10.50" text-anchor="middle">90</text>
<line x1="604.94" y1="690.40" x2="604.94" y2="692.00" stroke="#8a8a8a" stroke-width="1.00"/>
<text x="604.94" y="705.00" font-size="10.50" text-anchor="middle">92</text>
<path d="M423.60 485.30 L426.20 485.28 L427.40 485.20 L428.20 485.00 L428.60 484.81 L429.00 484.51 L429.60 483.79 L430.20 482.60 L430.80 480.88 L431.80 477.48 L432.00 477.01 L432.20 476.99 L432.60 477.84 L433.60 480.78 L434.20 482.29 L434.60 483.09 L435.00 483.71 L435.40 484.19 L435.80 484.54 L436.40 484.89 L437.00 485.08 L438.60 485.27 L440.40 485.29 L441.60 485.23 L442.40 485.09 L443.00 484.86 L443.60 484.41 L444.00 483.93 L444.40 483.24 L444.80 482.29 L445.40 480.33 L446.60 475.10 L446.80 474.40 L447.00 474.00 L447.20 474.32 L447.40 474.88 L449.00 480.71 L449.80 482.76 L450.40 483.77 L451.00 484.42 L451.80 484.90 L452.60 485.13 L453.60 485.25 L455.00 485.29 L464.80 485.29 L466.40 485.19 L467.00 485.05 L467.40 484.89 L467.80 484.63 L468.20 484.24 L468.60 483.68 L469.00 482.89 L469.60 481.24 L470.80 476.92 L471.00 476.42 L471.20 476.39 L471.60 477.26 L473.00 481.39 L473.80 483.11 L474.20 483.72 L474.80 484.37 L475.40 484.78 L476.20 485.07 L477.40 485.24 L479.80 485.30 L502.40 485.30 L503.80 485.27 L504.60 485.17 L505.40 484.86 L506.00 484.29 L506.60 483.12 L507.00 481.84 L507.60 478.87 L508.00 476.13 L508.80 469.70 L509.00 468.37 L509.20 467.60 L509.40 468.19 L509.60 469.22 L510.80 477.10 L511.20 479.26 L511.60 481.00 L512.00 482.32 L512.40 483.29 L512.80 483.98 L513.40 484.63 L514.00 484.98 L514.60 485.15 L515.40 485.25 L516.60 485.29 L530.00 485.28 L531.00 485.19 L531.40 485.07 L531.80 484.86 L532.20 484.46 L532.40 484.16 L532.80 483.22 L533.20 481.62 L533.40 480.47 L533.80 477.17 L534.00 474.90 L534.40 468.75 L535.00 454.55 L535.40 441.45 L536.20 410.75 L536.40 404.40 L536.60 400.70 L536.80 403.36 L537.00 408.02 L538.40 449.64 L538.80 458.98 L539.20 466.42 L539.80 474.39 L540.40 479.32 L540.80 481.41 L541.20 482.82 L541.60 483.75 L542.00 484.35 L542.40 484.73 L543.00 485.04 L543.80 485.22 L544.80 485.28 L547.00 485.29 L547.80 485.19 L548.40 484.85 L549.20 483.87 L549.40 483.87 L550.00 484.64 L550.40 485.01 L550.80 485.19 L551.40 485.28 L570.40 485.30 L571.20 485.25 L571.80 485.07 L572.20 484.75 L573.00 483.80 L574.00 484.94 L574.40 485.16 L574.80 485.25 L575.80 485.30 L578.40 485.27 L579.20 485.18 L579.80 484.99 L580.40 484.56 L580.80 484.03 L581.00 483.65 L581.40 482.60 L581.80 481.04 L582.20 478.86 L582.60 476.01 L583.60 467.34 L583.80 466.11 L584.00 466.03 L584.40 468.25 L585.60 476.91 L586.20 480.13 L586.60 481.69 L587.00 482.85 L587.40 483.68 L588.00 484.47 L588.40 484.78 L589.00 485.06 L589.60 485.19 L590.40 485.26 L604.40 485.30" fill="none" stroke="#2f2b2c" stroke-width="1.90" stroke-linejoin="round"/>
<path d="M423.80 586.30 L508.20 586.29 L508.80 586.24 L509.20 586.08 L509.60 585.66 L510.20 584.70 L511.00 585.91 L511.40 586.18 L512.00 586.29 L529.60 586.29 L530.80 586.22 L531.60 586.00 L532.20 585.53 L532.60 584.90 L533.00 583.82 L533.20 583.04 L533.60 580.82 L533.80 579.29 L534.20 575.15 L534.80 565.58 L535.20 556.76 L536.00 536.07 L536.20 531.79 L536.40 529.30 L536.60 531.21 L536.80 534.53 L538.20 563.55 L538.60 569.82 L539.00 574.73 L539.40 578.40 L540.00 582.06 L540.40 583.58 L540.80 584.60 L541.20 585.26 L541.60 585.67 L542.00 585.93 L542.60 586.14 L543.40 586.25 L544.40 586.29 L581.40 586.29 L582.20 586.20 L582.60 586.02 L583.00 585.65 L583.60 584.71 L583.80 584.50 L584.80 585.86 L585.20 586.13 L585.80 586.27 L604.60 586.30" fill="none" stroke="#2f2b2c" stroke-width="1.60" stroke-linejoin="round"/>
<path d="M423.90 685.88 L425.90 685.74 L426.50 685.59 L427.10 685.33 L427.70 684.87 L428.10 684.41 L428.50 683.79 L428.90 682.94 L429.50 681.18 L430.10 678.69 L430.70 675.43 L432.10 666.46 L432.30 665.53 L432.50 665.00 L432.70 665.46 L433.10 667.27 L434.30 674.39 L435.10 678.48 L435.90 681.46 L436.30 682.55 L436.70 683.41 L437.30 684.34 L437.90 684.96 L438.70 685.43 L439.70 685.69 L440.70 685.72 L441.70 685.49 L442.10 685.28 L442.50 684.95 L443.10 684.15 L443.70 682.78 L444.30 680.53 L444.90 677.04 L445.30 673.84 L446.10 665.03 L447.70 642.13 L447.90 640.34 L448.10 640.28 L448.30 641.82 L448.70 646.38 L449.70 660.00 L450.30 667.27 L450.70 671.33 L451.30 676.17 L451.90 679.65 L452.50 682.02 L452.90 683.13 L453.30 683.95 L453.70 684.55 L454.30 685.14 L454.70 685.39 L455.30 685.62 L456.70 685.84 L459.50 685.90 L463.90 685.86 L465.10 685.73 L465.90 685.48 L466.50 685.12 L467.10 684.50 L467.70 683.47 L468.10 682.48 L468.50 681.17 L468.90 679.50 L469.70 674.95 L471.10 664.87 L471.30 663.80 L471.50 663.20 L471.70 663.72 L471.90 664.64 L473.50 674.99 L474.10 678.24 L474.50 679.99 L475.10 682.03 L475.70 683.46 L476.30 684.41 L476.70 684.85 L477.10 685.17 L477.90 685.56 L478.70 685.75 L479.90 685.86 L481.90 685.90 L501.10 685.88 L502.70 685.73 L503.30 685.53 L503.70 685.29 L504.30 684.66 L504.70 683.95 L505.10 682.89 L505.50 681.34 L506.10 677.72 L506.70 671.94 L507.10 666.56 L507.50 659.79 L509.10 623.65 L509.30 620.12 L509.50 618.10 L509.70 619.81 L510.10 626.55 L511.10 647.92 L511.70 659.27 L512.10 665.49 L512.70 672.74 L513.30 677.77 L513.70 680.14 L514.10 681.88 L514.50 683.14 L514.90 684.04 L515.30 684.66 L515.90 685.24 L516.30 685.48 L516.90 685.69 L518.30 685.86 L526.70 685.90 L529.50 685.85 L530.50 685.70 L531.30 685.34 L531.90 684.74 L532.30 684.08 L532.90 682.43 L533.30 680.71 L533.70 678.33 L534.10 675.13 L534.50 670.99 L534.90 665.86 L536.30 644.13 L536.50 642.10 L536.70 642.02 L537.10 646.08 L538.50 665.80 L538.90 670.44 L539.50 675.92 L540.10 679.76 L540.70 682.28 L541.10 683.42 L541.50 684.22 L541.90 684.79 L542.50 685.31 L543.10 685.60 L543.70 685.75 L545.50 685.89 L574.70 685.90 L576.50 685.87 L577.50 685.77 L578.30 685.54 L578.90 685.17 L579.30 684.75 L579.70 684.14 L580.30 682.66 L580.90 680.24 L581.30 677.91 L581.70 674.89 L582.30 669.00 L583.70 652.12 L583.90 650.58 L584.10 650.52 L584.50 653.64 L585.90 669.04 L586.70 675.88 L587.10 678.42 L587.70 681.25 L588.10 682.59 L588.70 683.97 L589.30 684.82 L589.90 685.31 L590.70 685.65 L591.50 685.80 L593.70 685.89 L604.40 685.90" fill="none" stroke="#2f2b2c" stroke-width="1.70" stroke-linejoin="round"/>
<text x="423.60" y="436.00" font-size="11.80" textLength="48.40" lengthAdjust="spacingAndGlyphs">(<tspan font-style="italic">S</tspan>)-3-APA</text>
<line x1="447.20" y1="439.50" x2="447.20" y2="467.70" stroke="#4d6a8c" stroke-width="1.00"/>
<path d="M444.90 466.70 L449.50 466.70 L447.20 471.50 Z" fill="#4d6a8c"/>
<text x="421.70" y="472.80" font-size="11.80" textLength="23.60" lengthAdjust="spacingAndGlyphs"><tspan font-size="0.72em">D</tspan>-Iva</text>
<text x="460.90" y="472.60" font-size="11.80" textLength="21.90" lengthAdjust="spacingAndGlyphs"><tspan font-size="0.72em">L</tspan>-Iva</text>
<text x="483.30" y="463.00" font-size="11.80" textLength="48.50" lengthAdjust="spacingAndGlyphs">(R)-3-APA</text>
<text x="539.70" y="407.80" font-size="11.80" textLength="22.80" lengthAdjust="spacingAndGlyphs"><tspan font-size="0.72em">L</tspan>-Val</text>
<text x="572.40" y="460.20" font-size="11.80" textLength="24.50" lengthAdjust="spacingAndGlyphs"><tspan font-size="0.72em">D</tspan>-Val</text>
<text x="643.80" y="472.50" font-size="10.80" text-anchor="middle" textLength="27.30" lengthAdjust="spacingAndGlyphs">Bennu</text>
<text x="643.90" y="483.70" font-size="10.80" text-anchor="middle" textLength="78.00" lengthAdjust="spacingAndGlyphs">(OREX-803001-0)</text>
<text x="525.10" y="524.30" font-size="11.80" textLength="22.90" lengthAdjust="spacingAndGlyphs"><tspan font-size="0.72em">L</tspan>-Val</text>
<text x="608.90" y="582.80" font-size="10.80" textLength="24.00" lengthAdjust="spacingAndGlyphs">Blank</text>
<text x="423.00" y="635.70" font-size="11.80" textLength="48.50" lengthAdjust="spacingAndGlyphs">(<tspan font-style="italic">S</tspan>)-3-APA</text>
<text x="420.60" y="661.30" font-size="11.80" textLength="23.80" lengthAdjust="spacingAndGlyphs"><tspan font-size="0.72em">D</tspan>-Iva</text>
<text x="460.50" y="658.20" font-size="11.80" textLength="22.80" lengthAdjust="spacingAndGlyphs"><tspan font-size="0.72em">L</tspan>-Iva</text>
<text x="485.40" y="613.70" font-size="11.80" textLength="48.50" lengthAdjust="spacingAndGlyphs">(<tspan font-style="italic">R</tspan>)-3-APA</text>
<text x="525.80" y="636.60" font-size="11.80" textLength="22.90" lengthAdjust="spacingAndGlyphs"><tspan font-size="0.72em">L</tspan>-Val</text>
<text x="572.80" y="646.80" font-size="11.80" textLength="23.90" lengthAdjust="spacingAndGlyphs"><tspan font-size="0.72em">D</tspan>-Val</text>
<text x="608.50" y="682.50" font-size="10.80" textLength="41.00" lengthAdjust="spacingAndGlyphs">Standard</text>
<text x="514.10" y="720.30" font-size="11.20" text-anchor="middle" textLength="107.20" lengthAdjust="spacingAndGlyphs">Retention time (min)</text>
<text x="386.10" y="542.15" font-size="11.60" text-anchor="middle" textLength="187.70" lengthAdjust="spacingAndGlyphs" transform="rotate(-90 386.10 542.15)">Mass spectral signal intensity (×10<tspan font-size="0.78em" dy="-4.4">5</tspan><tspan dy="4.40">)</tspan></text>
</svg>
</body></html>
